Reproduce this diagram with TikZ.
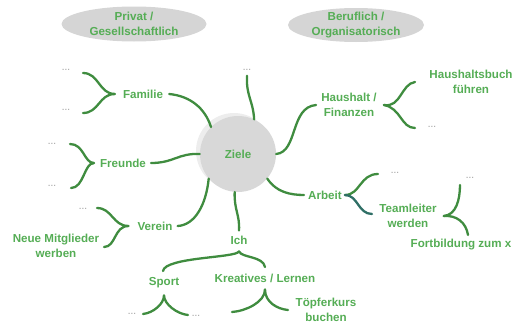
\documentclass[tikz,border=0pt]{standalone}
\usepackage{fontspec}
\setmainfont{Liberation Sans}
\usetikzlibrary{shapes.geometric}
\definecolor{txtg}{HTML}{55AD55}
\definecolor{lng}{HTML}{3F8C3F}
\definecolor{tealb}{HTML}{2F6F66}
\definecolor{ellg}{HTML}{D5D5D5}
\definecolor{circg}{HTML}{D8D8D8}
\definecolor{shadg}{HTML}{EDEDED}
\newcommand{\dd}{.\kern0.6pt.\kern0.6pt.}
\begin{document}
\begin{tikzpicture}[x=1pt,y=-1pt,
  lbl/.style={font=\fontsize{11.6}{15}\selectfont\bfseries, text=txtg, align=center, inner sep=1pt},
  dots/.style={font=\fontsize{8}{9}\selectfont\bfseries, text=gray!65, inner sep=1pt},
  ln/.style={draw=lng, line width=2.3pt, line cap=round},
  lnt/.style={draw=tealb, line width=2.3pt, line cap=round}]
\useasboundingbox (0,0) rectangle (520,324);

% category ellipses
\fill[ellg] (134,24) ellipse [x radius=72.5, y radius=17.5];
\fill[ellg] (356,25) ellipse [x radius=68, y radius=17];
\node[lbl] (priv) at (134,24) {Privat /\\Gesellschaftlich};
\node[lbl] (beruf) at (356,25) {Beruflich /\\Organisatorisch};

% centre
\fill[shadg] (234,151) circle (38);
\node[circle, fill=circg, minimum size=76pt, inner sep=0pt, lbl] (ziele) at (238,154) {Ziele};

% left side
\node[lbl] (fam) at (143,94) {Familie};
\node[dots] (f1) at (66,70) {\dd};
\node[dots] (f2) at (66,110) {\dd};
\node[lbl] (fre) at (123,163) {Freunde};
\node[dots] (fr1) at (52,144) {\dd};
\node[dots] (fr2) at (52,186) {\dd};
\node[lbl] (ver) at (155,226) {Verein};
\node[dots] (v1) at (83,209) {\dd};
\node[lbl] (neue) at (56,246) {Neue Mitglieder\\werben};

% top
\node[dots] (top) at (247,70) {\dd};

% bottom
\node[lbl] (ich) at (239,240) {Ich};
\node[lbl] (sport) at (164,283) {Sport};
\node[dots] (s1) at (132,314) {\dd};
\node[dots] (s2) at (196,316) {\dd};
\node[lbl] (krea) at (265,278) {Kreatives / Lernen};
\node[lbl] (topf) at (326,310) {Töpferkurs\\buchen};

% right side
\node[lbl] (haus) at (349,105) {Haushalt /\\Finanzen};
\node[lbl] (hb) at (471,82) {Haushaltsbuch\\führen};
\node[dots] (h1) at (432,127) {\dd};
\node[lbl] (arb) at (325,195) {Arbeit};
\node[dots] (a1) at (395,173) {\dd};
\node[lbl] (team) at (408,216) {Teamleiter\\werden};
\node[dots] (t1) at (470,178) {\dd};
\node[lbl] (fort) at (461,245) {Fortbildung zum x};

% connectors from centre
\draw[ln] ([xshift=5pt]fam.east) .. controls (190,96) and (205,108) .. (ziele.135);
\draw[ln] ([xshift=4pt]fre.east) .. controls (174,163) and (178,153) .. (ziele.west);
\draw[ln] ([xshift=4pt]ver.east) .. controls (195,225) and (206,205) .. (ziele.220);
\draw[ln] (ziele.65) .. controls (253,100) and (246,96) .. ([yshift=-4pt]top.south);
\draw[ln] (ziele.east) .. controls (298,152) and (290,107) .. ([xshift=-4pt]haus.west);
\draw[ln] (ziele.-40) .. controls (276,192) and (290,195) .. ([xshift=-3pt]arb.west);
\draw[ln] (ziele.-95) .. controls (234,210) and (240,215) .. ([yshift=4pt]ich.north);

% brace tips and free ends
\coordinate (famT) at ([xshift=-7pt]fam.west);
\coordinate (famA) at (83,73);
\coordinate (famB) at (83,113);
\coordinate (freT) at ([xshift=-5pt]fre.west);
\coordinate (freA) at (70,144);
\coordinate (freB) at (71,188);
\coordinate (verT) at ([xshift=-8pt]ver.west);
\coordinate (verA) at (97,208);
\coordinate (verB) at (104,247);
\coordinate (hausT) at ([xshift=6pt]haus.east);
\coordinate (hausA) at (415,82);
\coordinate (hausB) at (415,128);
\coordinate (arbT) at ([xshift=2pt]arb.east);
\coordinate (arbA) at (378,174);
\coordinate (arbB) at (372,214);
\coordinate (teamT) at ([xshift=6pt]team.east);
\coordinate (teamA) at (460,185);
\coordinate (teamB) at (468,235);
\coordinate (ichT) at ([yshift=-6pt]ich.south);
\coordinate (ichA) at (163,271);
\coordinate (ichB) at (265,267);
\coordinate (spT) at ([yshift=-6pt]sport.south);
\coordinate (spA) at (143,314);
\coordinate (spB) at (188,315);
\coordinate (krT) at ([yshift=-6pt]krea.south);
\coordinate (krA) at (232,312);
\coordinate (krB) at (288,310);

% braces
\draw[ln] (famT) .. controls (99,94) and (99,73) .. (famA);
\draw[ln] (famT) .. controls (99,94) and (99,113) .. (famB);
\draw[ln] (freT) .. controls (84,163) and (84,144) .. (freA);
\draw[ln] (freT) .. controls (84,163) and (84,188) .. (freB);
\draw[ln] (verT) .. controls (113,226) and (112,208) .. (verA);
\draw[ln] (verT) .. controls (114,226) and (116,247) .. (verB);
\draw[ln] (hausT) .. controls (401,108) and (401,84) .. (hausA);
\draw[ln] (hausT) .. controls (401,108) and (401,128) .. (hausB);
\draw[ln] (arbT) .. controls (360,195) and (360,174) .. (arbA);
\draw[lnt] (arbT) .. controls (358,195) and (358,214) .. (arbB);
\draw[ln] (teamT) .. controls (456,215) and (460,200) .. (teamA);
\draw[ln] (teamT) .. controls (456,215) and (466,222) .. (teamB);
\draw[ln] (ichT) .. controls (236,258) and (165,257) .. (ichA);
\draw[ln] (ichT) .. controls (242,258) and (263,256) .. (ichB);
\draw[ln] (spT) .. controls (164,304) and (153,313) .. (spA);
\draw[ln] (spT) .. controls (164,304) and (177,314) .. (spB);
\draw[ln] (krT) .. controls (265,302) and (246,311) .. (krA);
\draw[ln] (krT) .. controls (265,302) and (277,309) .. (krB);
\end{tikzpicture}
\end{document}
